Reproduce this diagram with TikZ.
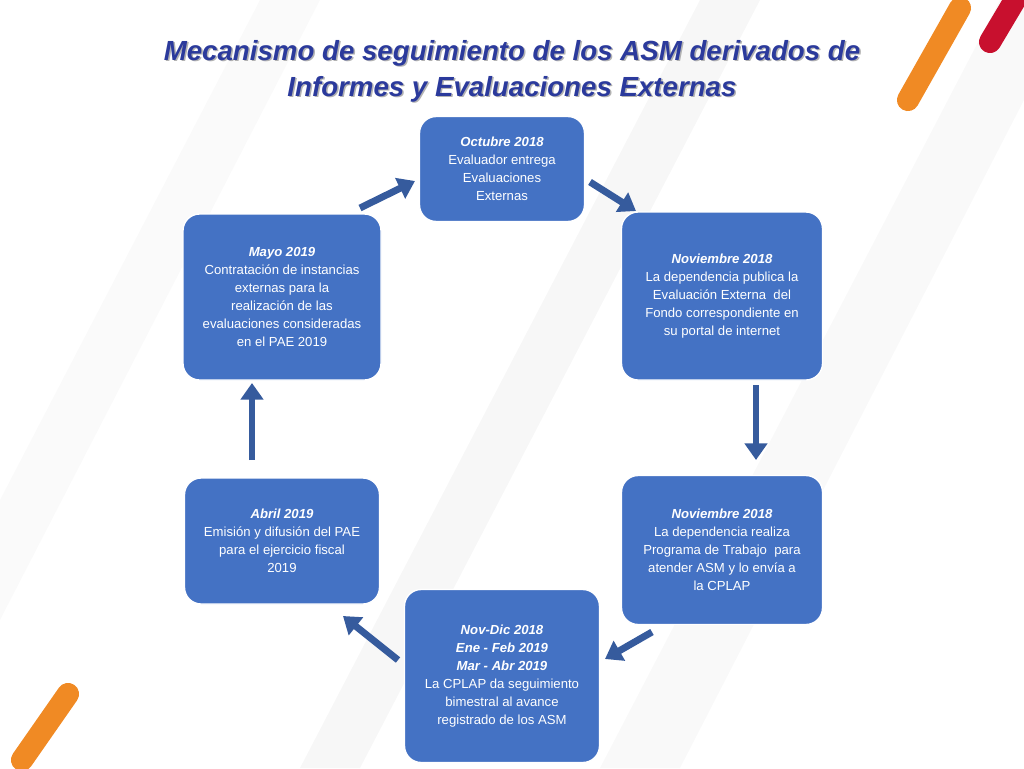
\documentclass[tikz,border=0pt]{standalone}
\usepackage{fontspec}
\setmainfont{Liberation Sans}
\usetikzlibrary{arrows.meta}
\definecolor{boxblue}{HTML}{4472C4}
\definecolor{titleblue}{HTML}{2B3A9C}
\definecolor{strip}{HTML}{F08A24}
\definecolor{stripred}{HTML}{C8102E}
\newdimen\px \px=0.0254cm
\newcommand{\when}[1]{\textbf{\textit{#1}}}
\begin{document}
\begin{tikzpicture}[x=0.0254cm,y=-0.0254cm]
  \tikzset{stepbox/.style={fill=boxblue,draw=white,line width=1pt,rounded corners=12pt,text=white,
      align=center,font=\fontsize{9.5}{13}\selectfont,inner sep=2pt},
    flow/.style={draw=boxblue!80!black,line width=5pt,-{Triangle[length=12pt,width=16pt]}}}
  \useasboundingbox (0,0) rectangle (1024,768);
  % background
  \fill[gray!6] (300,768) -- (700,0) -- (760,0) -- (360,768) -- cycle;
  \fill[gray!5] (600,768) -- (1000,0) -- (1024,0) -- (1024,100) -- (680,768) -- cycle;
  \fill[gray!4] (0,500) -- (260,0) -- (320,0) -- (0,620) -- cycle;
  \draw[strip,line width=16pt,line cap=round] (908,100) -- (960,8);
  \draw[stripred,line width=16pt,line cap=round] (990,42) -- (1015,0);
  \draw[strip,line width=16pt,line cap=round] (22,760) -- (68,694);

  % title
  \node[text=gray!60,font=\fontsize{20}{26}\selectfont\bfseries\itshape,align=center] at (513.5,72.5)
    {Mecanismo de seguimiento de los ASM derivados de\\Informes y Evaluaciones Externas};
  \node (title) [text=titleblue,font=\fontsize{20}{26}\selectfont\bfseries\itshape,align=center] at (512,71)
    {Mecanismo de seguimiento de los ASM derivados de\\Informes y Evaluaciones Externas};

  % boxes
  \node[stepbox,minimum width=165\px,minimum height=105\px] (oct) at (502,169)
    {\when{Octubre 2018}\\Evaluador entrega\\Evaluaciones\\Externas};
  \node[stepbox,minimum width=201\px,minimum height=168\px] (nov1) at (722,296)
    {\when{Noviembre 2018}\\La dependencia publica la\\Evaluación Externa\ \ del\\Fondo correspondiente en\\su portal de internet};
  \node[stepbox,minimum width=201\px,minimum height=149\px] (nov2) at (722,550)
    {\when{Noviembre 2018}\\La dependencia realiza\\Programa de Trabajo\ \ para\\atender ASM y lo envía a\\la CPLAP};
  \node[stepbox,minimum width=195\px,minimum height=173\px] (novdic) at (502,676)
    {\when{Nov-Dic 2018}\\\when{Ene - Feb 2019}\\\when{Mar - Abr 2019}\\La CPLAP da seguimiento\\bimestral al avance\\registrado de los ASM};
  \node[stepbox,minimum width=195\px,minimum height=126\px] (abr) at (282,541)
    {\when{Abril 2019}\\Emisión y difusión del PAE\\para el ejercicio fiscal\\2019};
  \node[stepbox,minimum width=198\px,minimum height=166\px] (may) at (282,297)
    {\when{Mayo 2019}\\Contratación de instancias\\externas para la\\realización de las\\evaluaciones consideradas\\en el PAE 2019};

  % arrows
  \coordinate (a1) at (360,208); \coordinate (b1) at (415,181);
  \coordinate (a2) at (590,182); \coordinate (b2) at (636,211);
  \coordinate (a3) at (756,385); \coordinate (b3) at (756,460);
  \coordinate (a4) at (652,632); \coordinate (b4) at (605,659);
  \coordinate (a5) at (398,660); \coordinate (b5) at (343,616);
  \coordinate (a6) at (252,460); \coordinate (b6) at (252,383);
  \foreach \i in {1,...,6}
    \draw[flow] (a\i) -- (b\i);
\end{tikzpicture}
\end{document}
